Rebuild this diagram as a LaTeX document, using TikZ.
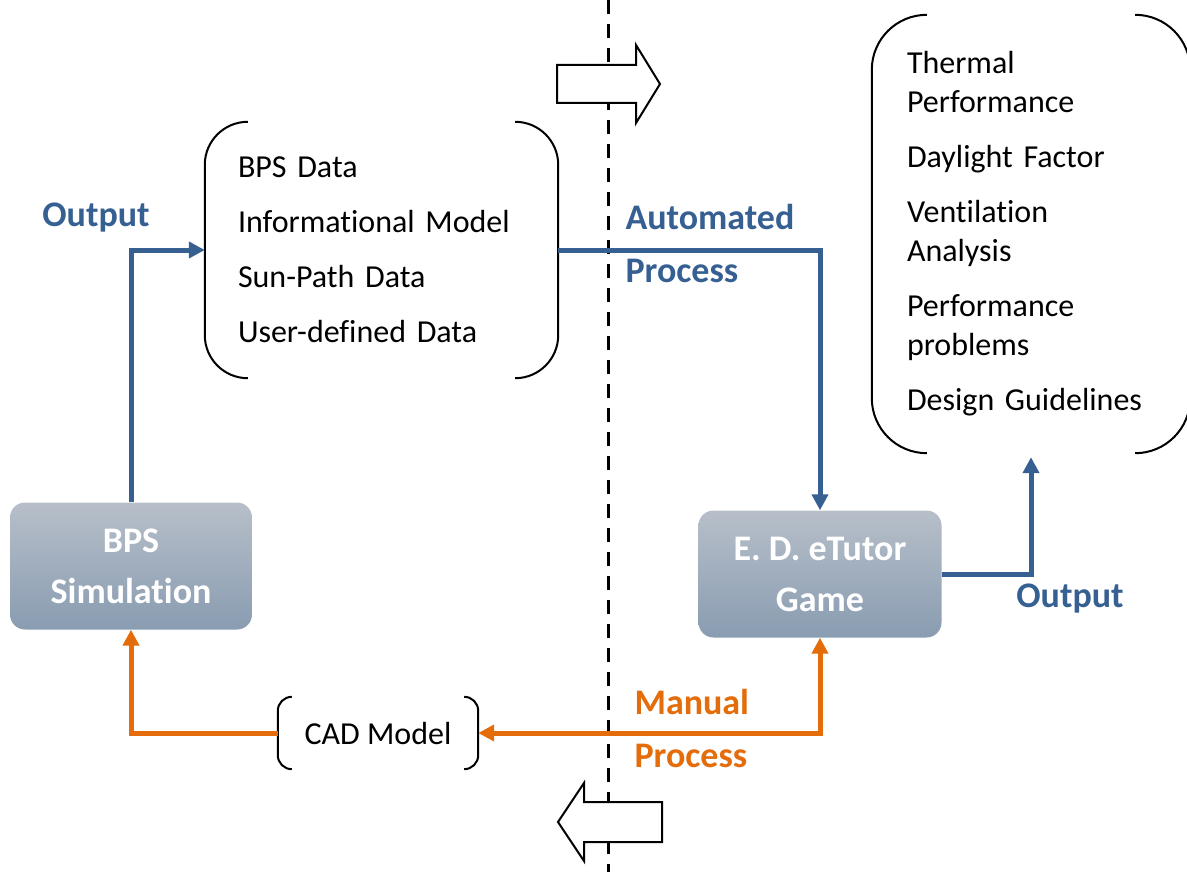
\documentclass[tikz,border=0pt]{standalone}
\usepackage{fontspec}
\setmainfont{Carlito}[Ligatures=NoCommon]
\usetikzlibrary{arrows.meta}
\definecolor{flowblue}{RGB}{55,96,146}
\definecolor{floworange}{RGB}{228,108,10}
\definecolor{boxtop}{RGB}{183,191,201}
\definecolor{boxbottom}{RGB}{137,156,177}

% round brackets on both sides of a node: node, arm length, radius
\newcommand{\bracketpair}[3]{%
  \draw[line width=2, rounded corners=#3] ([xshift=#2]#1.north west) -- (#1.north west)
    -- (#1.south west) -- ([xshift=#2]#1.south west);
  \draw[line width=2, rounded corners=#3] ([xshift=-#2]#1.north east) -- (#1.north east)
    -- (#1.south east) -- ([xshift=-#2]#1.south east);
}

\begin{document}
\begin{tikzpicture}[x=1pt, y=-1pt,
  tool/.style={rounded corners=15, top color=boxtop, bottom color=boxbottom, text=white,
    align=center, minimum width=242, minimum height=127,
    font=\fontsize{36}{51}\selectfont\bfseries},
  list/.style={align=left, inner ysep=0, font=\fontsize{32}{39}\selectfont},
  flowlabel/.style={align=left, font=\fontsize{36}{53}\selectfont\bfseries},
  blueflow/.style={flowblue, line width=5, -{Triangle[length=16pt,width=16pt]}},
  orangeflow/.style={floworange, line width=5, {Triangle[length=16pt,width=16pt]}-{Triangle[length=16pt,width=16pt]}}]
\useasboundingbox (0,0) rectangle (1187,872);

% dividing line and direction arrows
\draw[line width=3, dash pattern=on 14 off 10] (608,0) -- (608,872);
\draw[line width=2, fill=white] (557,65) -- (636,65) -- (636,45) -- (660,84) -- (636,123)
  -- (636,103) -- (557,103) -- cycle;
\draw[line width=2, fill=white] (662,802) -- (584,802) -- (584,783) -- (558,822) -- (584,861)
  -- (584,842) -- (662,842) -- cycle;

\node[tool] (bps) at (131,566) {BPS\\Simulation};
\node[tool, minimum width=243] (game) at (820,574) {E. D. eTutor\\Game};

\node[list, text width=287, inner xsep=33, minimum height=256] (data) at (381.5,250)
  {BPS Data\\[16pt]Informational Model\\[16pt]Sun-Path Data\\[16pt]User-defined Data};
\bracketpair{data}{43pt}{43pt}
\node[list, text width=248, inner xsep=35, minimum height=438] (results) at (1031,234)
  {Thermal\\Performance\\[16pt]Daylight Factor\\[16pt]Ventilation\\Analysis\\[16pt]Performance\\problems\\[16pt]Design Guidelines};
\bracketpair{results}{55pt}{55pt}
\node[list, minimum width=200, minimum height=72] (cad) at (378,733) {CAD Model};
\bracketpair{cad}{14pt}{14pt}

\node[flowlabel, text=flowblue] (outleft) at (96,218) {Output};
\node[flowlabel, text=flowblue, anchor=west] (auto) at (622,244) {Automated\\Process};
\node[flowlabel, text=flowblue] (outright) at (1070,599) {Output};
\node[flowlabel, text=floworange, anchor=west] (manual) at (631,728) {Manual\\Process};

\draw[blueflow] (bps.north) |- (data.west);
\draw[blueflow] (data.east) -| (game.north);
\draw[blueflow, shorten >=4] (game.east) -| (results.south);
\draw[orangeflow] (cad.east) -| (game.south);
\draw[floworange, line width=5, -{Triangle[length=16pt,width=16pt]}] (cad.west) -| (bps.south);
\end{tikzpicture}
\end{document}
